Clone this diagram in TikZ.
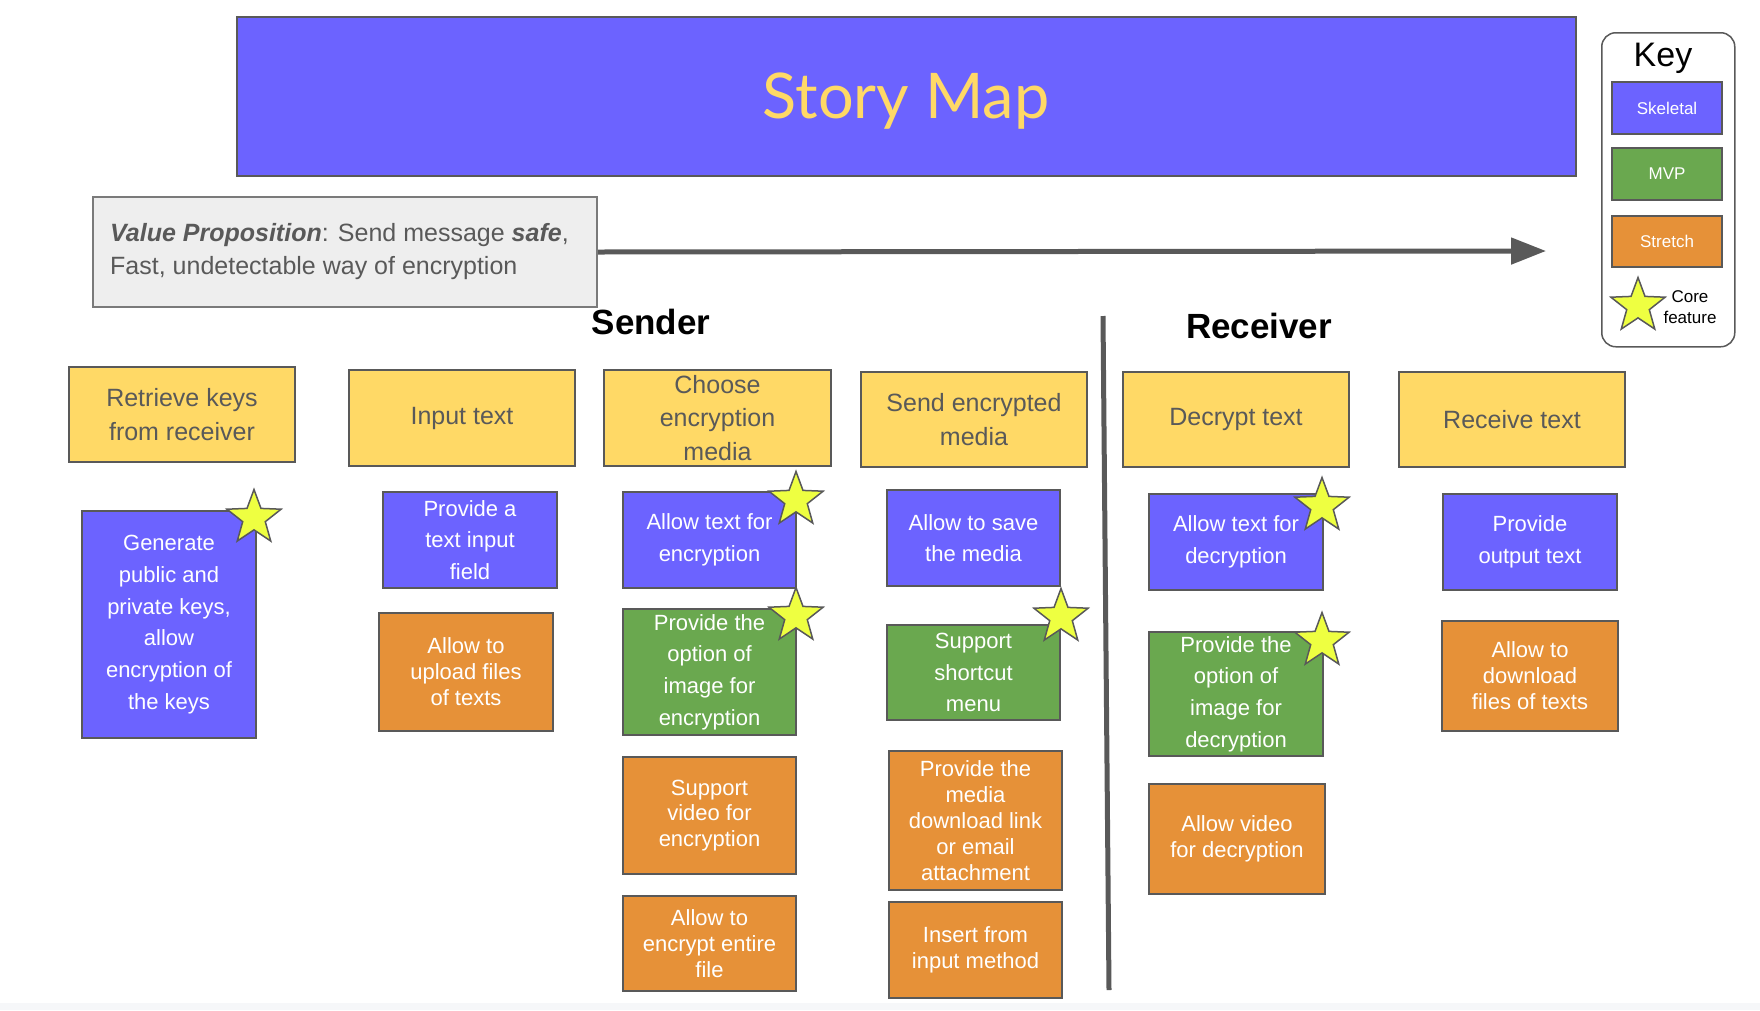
\documentclass[tikz,border=0pt]{standalone}
\usepackage{fontspec}
\setmainfont{Liberation Sans}
\newfontfamily\latofont{Lato}
\usetikzlibrary{shapes.geometric,arrows.meta}

\definecolor{skel}{HTML}{6C63FF}
\definecolor{mvp}{HTML}{6AA84F}
\definecolor{stretch}{HTML}{E69138}
\definecolor{hdr}{HTML}{FFD966}
\definecolor{edge}{HTML}{595959}
\definecolor{starfill}{HTML}{EEFF41}
\definecolor{vpfill}{HTML}{EEEEEE}
\definecolor{bandc}{HTML}{F6F7F9}

\tikzset{
  card/.style={draw=edge, line width=2pt, inner sep=0pt, align=center, anchor=north west, minimum width=174pt},
  bluecard/.style={card, fill=skel, text=white, font=\fontsize{22}{31.7}\selectfont},
  greencard/.style={card, fill=mvp, text=white, font=\fontsize{22}{31.7}\selectfont},
  orangecard/.style={card, fill=stretch, text=white, font=\fontsize{22}{25.9}\selectfont},
  hdrcard/.style={card, fill=hdr, text=edge, minimum width=226pt, font=\fontsize{25}{33.6}\selectfont},
  corestar/.style={star, star points=5, star point ratio=2.4, draw=edge, line width=1.5pt, fill=starfill, minimum size=57pt, inner sep=0pt},
  legend/.style={draw=edge, line width=2pt, inner sep=0pt, anchor=north west, minimum width=110pt, text=white, font=\fontsize{17}{20}\selectfont},
  sectionlabel/.style={anchor=base, font=\bfseries\fontsize{35}{40}\selectfont, text=black},
}

\begin{document}
\begin{tikzpicture}[x=1pt, y=-1pt]
\useasboundingbox (0,0) rectangle (1760,1010);
\fill[bandc] (0,1003) rectangle (1760,1010);

% Title
\node[draw=edge, line width=2pt, fill=skel, anchor=north west, minimum width=1339pt, minimum height=159pt, inner sep=0pt] (title) at (236,16) {};
\node[anchor=base, font=\latofont\fontsize{63}{70}\selectfont, text=hdr] (titletext) at (906,118) {Story Map};

% Key
\node[draw=edge, line width=1.5pt, rounded corners=14pt, fill=white, anchor=north west, minimum width=133pt, minimum height=314pt, inner sep=0pt] (keybox) at (1601,32) {};
\node[anchor=base, font=\fontsize{34}{40}\selectfont, text=black] (keytitle) at (1663,66) {Key};
\node[legend, fill=skel, minimum height=52pt] (kskel) at (1611,81) {Skeletal};
\node[legend, fill=mvp, minimum height=52pt] (kmvp) at (1611,147) {MVP};
\node[legend, fill=stretch, minimum height=51pt] (kstretch) at (1611,215) {Stretch};
\node[corestar] (kstar) at (1638,306) {};
\node[align=center, font=\fontsize{17}{21}\selectfont, text=black, inner sep=0pt] (kcore) at (1690,307) {Core\\feature};

% Value proposition
\node[draw=edge!80, line width=2pt, fill=vpfill, anchor=north west, minimum width=504pt, minimum height=110pt, inner sep=0pt] (vp) at (92,196) {};
\node[anchor=west, align=left, inner sep=0pt, text=edge, font=\fontsize{25}{33}\selectfont] (vptext) at (110,252) {\textbf{\textit{Value Proposition}}: Send message \textbf{\textit{safe}},\\Fast, undetectable way of encryption};
\coordinate (arrowend) at (1546,251);
\draw[edge, line width=5pt, -{Triangle[length=35pt,width=26pt]}] (vp.east) -- (arrowend);

% Section labels and separator
\node[sectionlabel] (sender) at (651,334) {Sender};
\node[sectionlabel] (receiver) at (1259,338) {Receiver};
\coordinate (sepA) at (1103,316);
\coordinate (sepB) at (1109,990);
\draw[edge, line width=5pt] (sepA) -- (sepB);

% Headers
\node[hdrcard, minimum height=95pt] (h1) at (68,366) {Retrieve keys\\from receiver};
\node[hdrcard, minimum height=96pt] (h2) at (348,369) {Input text};
\node[hdrcard, minimum height=96pt, minimum width=227pt] (h3) at (603,369) {Choose\\encryption\\media};
\node[hdrcard, minimum height=95pt] (h4) at (860,371) {Send encrypted\\media};
\node[hdrcard, minimum height=95pt] (h5) at (1122,371) {Decrypt text};
\node[hdrcard, minimum height=95pt] (h6) at (1398,371) {Receive text};

% Column 1
\node[bluecard, minimum height=227pt] (c11) at (81,510) {Generate\\public and\\private keys,\\allow\\encryption of\\the keys};
% Column 2
\node[bluecard, minimum height=96pt] (c21) at (382,491) {Provide a\\text input\\field};
\node[orangecard, minimum height=118pt] (c22) at (378,612) {Allow to\\upload files\\of texts};
% Column 3
\node[bluecard, minimum height=96pt, minimum width=173pt] (c31) at (622,491) {Allow text for\\encryption};
\node[greencard, minimum height=126pt, minimum width=173pt] (c32) at (622,608) {Provide the\\option of\\image for\\encryption};
\node[orangecard, minimum height=117pt, minimum width=173pt] (c33) at (622,756) {Support\\video for\\encryption};
\node[orangecard, minimum height=95pt, minimum width=173pt] (c34) at (622,895) {Allow to\\encrypt entire\\file};
% Column 4
\node[bluecard, minimum height=96pt, minimum width=173pt] (c41) at (886,489) {Allow to save\\the media};
\node[greencard, minimum height=95pt, minimum width=173pt] (c42) at (886,624) {Support\\shortcut\\menu};
\node[orangecard, minimum height=139pt, minimum width=173pt] (c43) at (888,750) {Provide the\\media\\download link\\or email\\attachment};
\node[orangecard, minimum height=96pt, minimum width=173pt] (c44) at (888,901) {Insert from\\input method};
% Column 5
\node[bluecard, minimum height=96pt] (c51) at (1148,493) {Allow text for\\decryption};
\node[greencard, minimum height=124pt] (c52) at (1148,631) {Provide the\\option of\\image for\\decryption};
\node[orangecard, minimum height=110pt, minimum width=176pt] (c53) at (1148,783) {Allow video\\for decryption};
% Column 6
\node[bluecard, minimum height=96pt] (c61) at (1442,493) {Provide\\output text};
\node[orangecard, minimum height=110pt, minimum width=176pt] (c62) at (1441,620) {Allow to\\download\\files of texts};

% Core feature stars
\node[corestar] (s11) at (254,518) {};
\node[corestar] (s31) at (796,500) {};
\node[corestar] (s32) at (796,616) {};
\node[corestar] (s42) at (1061,617) {};
\node[corestar] (s51) at (1322,506) {};
\node[corestar] (s52) at (1322,641) {};
\end{tikzpicture}
\end{document}
